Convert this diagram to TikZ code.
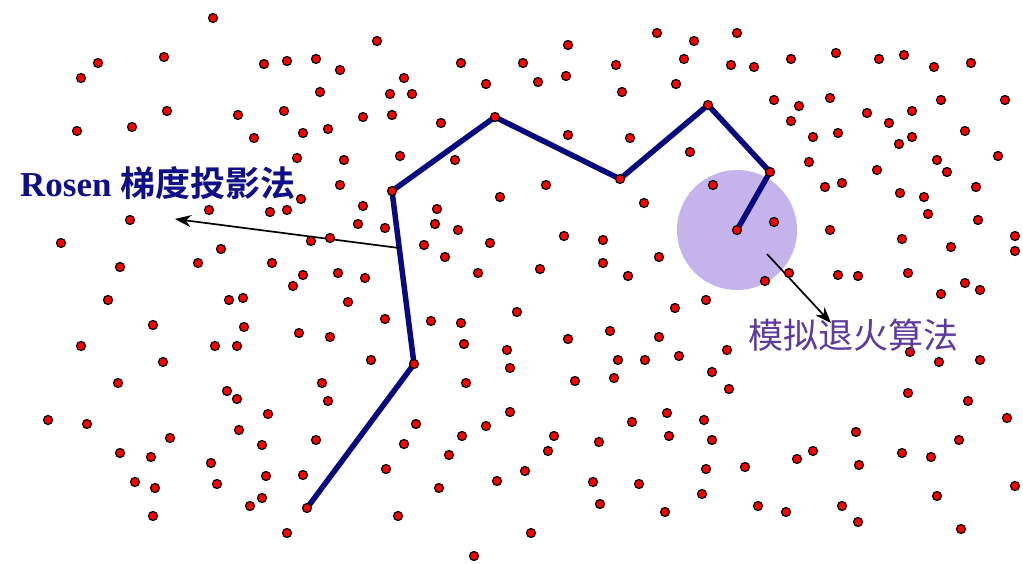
\documentclass[tikz,border=0pt]{standalone}
\usepackage{fontspec}
\setmainfont{Liberation Serif}
\newfontfamily\cjk{Noto Sans CJK SC}
\newfontfamily\cjkb[BoldFont={Noto Sans CJK SC Bold}]{Noto Sans CJK SC}
\usetikzlibrary{arrows.meta}
\definecolor{routeblue}{RGB}{10,10,128}
\definecolor{rosenblue}{RGB}{15,15,135}
\definecolor{sapurple}{RGB}{92,58,158}
\definecolor{lavender}{RGB}{196,180,235}
\tikzset{
  dot/.style={circle,draw=black,fill=red,line width=1.2pt,inner sep=0pt,minimum size=9pt},
  route/.style={draw=routeblue,line width=5.5pt,line join=round},
  pointer/.style={draw=black,line width=1.7pt,-{Stealth[length=16pt,width=12pt,inset=5pt]}},
  zone/.style={fill=lavender,draw=none},
  rosenlabel/.style={anchor=west,text=rosenblue,font=\fontsize{35}{40}\selectfont\bfseries,inner sep=0pt},
  salabel/.style={anchor=west,text=sapurple,font=\fontsize{35}{40}\selectfont\cjk,inner sep=0pt}
}
\begin{document}
\begin{tikzpicture}[x=1pt,y=-1pt]
\useasboundingbox[fill=white] (0,0) rectangle (1023,563);
% annealing neighbourhood
\coordinate (cc) at (737,230);
\fill[zone] (cc) circle (60);
% route vertices
\coordinate (p1) at (307,508);
\coordinate (p2) at (414,364);
\coordinate (p3) at (392,191);
\coordinate (p4) at (495,117);
\coordinate (p5) at (620,179);
\coordinate (p6) at (708,105);
\coordinate (p7) at (770,172);
\coordinate (p8) at (737,230);
\draw[route] (p1) -- (p2) -- (p3) -- (p4) -- (p5) -- (p6) -- (p7) -- (p8);
% arrows
\coordinate (a1s) at (399,248);
\coordinate (a1e) at (175,219);
\coordinate (a2s) at (767,254);
\coordinate (a2e) at (831,323);
\draw[pointer] (a1s) -- (a1e);
\draw[pointer] (a2s) -- (a2e);
% dots
\foreach \x/\y [count=\i] in {
213/18,98/63,81/78,164/57,167/111,238/115,77/131,132/127,254/138,209/210,130/220,61/243,120/267,198/263,221/249,
377/41,264/64,287/61,316/59,340/70,404/78,390/94,412/94,461/63,486/84,320/92,284/111,363/117,392/115,303/133,328/129,441/123,495/117,297/158,344/160,400/156,455/160,340/185,392/191,500/197,301/199,270/212,287/210,363/206,437/209,358/224,385/228,435/224,458/230,311/241,330/238,424/245,490/243,272/263,303/275,338/273,365/278,445/257,478/273,
568/45,523/63,538/82,566/76,616/65,622/92,657/33,694/41,684/59,737/33,731/65,754/67,676/84,708/105,568/135,630/138,690/152,620/179,546/185,713/185,644/203,770/172,737/230,564/236,603/240,540/269,603/263,659/257,628/276,765/281,
791/59,836/53,879/59,904/55,934/67,971/63,774/100,799/106,830/98,791/121,867/113,912/111,941/100,1005/100,889/123,813/137,838/133,899/144,912/137,965/131,809/162,877/170,937/160,947/172,998/156,825/187,842/183,900/193,924/197,976/187,928/214,978/220,774/222,830/230,902/239,951/247,1015/236,1015/251,789/273,838/275,858/276,908/273,965/283,
108/300,229/300,243/298,153/325,244/327,81/346,215/346,237/346,163/362,118/383,227/391,237/399,48/420,87/424,239/430,170/438,120/453,151/457,211/463,135/482,155/488,217/484,250/506,153/516,
293/286,348/302,385/319,431/321,461/323,299/333,330/337,464/344,507/350,510/368,371/360,414/364,322/383,328/401,466/383,268/414,510/412,416/424,486/426,262/445,316/440,404/444,462/436,449/455,266/476,303/475,386/469,497/481,439/488,262/498,307/508,398/516,287/533,474/556,
706/300,675/308,517/312,568/339,610/331,659/337,727/350,618/360,645/360,679/356,575/381,614/378,712/372,729/389,667/413,632/422,704/420,554/436,669/436,712/440,548/451,599/442,525/471,593/482,639/484,706/469,745/467,702/494,600/504,665/512,758/506,531/533,
941/294,980/290,910/352,939/362,980/360,908/393,968/401,1007/418,856/432,959/440,813/451,797/459,859/465,902/453,931/457,1015/486,937/496,786/512,842/506,858/522,961/529}
  \node[dot] (d\i) at (\x,\y) {};
% labels
\node[rosenlabel] (rosen) at (20,183) {Rosen {\cjkb\bfseries 梯度投影法}};
\node[salabel] (sa) at (748,335) {模拟退火算法};
\end{tikzpicture}
\end{document}
